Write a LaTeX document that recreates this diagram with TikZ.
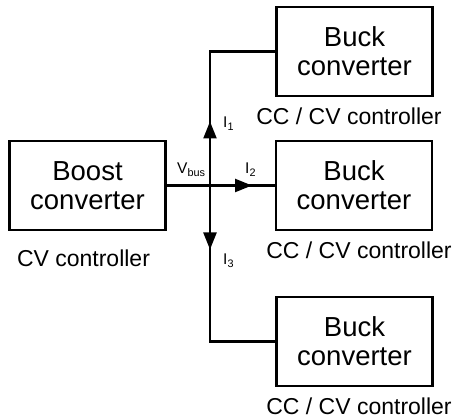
\documentclass[tikz,border=0pt]{standalone}
\usepackage{fontspec}
\setmainfont{Liberation Sans}
\usetikzlibrary{arrows.meta,positioning}
\tikzset{
  block/.style = {
    rectangle,
    draw=black,
    line width=2.4pt,
    minimum width=156pt,
    minimum height=89pt,
    inner sep=0pt,
    align=center,
    font=\fontsize{27.5}{29}\selectfont
  },
  ctrl/.style = {
    inner sep=0pt,
    font=\fontsize{23}{27}\selectfont
  },
  bus/.style = {
    line width=2.4pt
  },
  flow/.style = {
    line width=2.4pt,
    -{Triangle[length=17pt,width=13pt]}
  },
  current/.style = {
    inner sep=0pt,
    anchor=base west,
    font=\fontsize{15.5}{18}\selectfont
  }
}

\begin{document}
\begin{tikzpicture}[x=1pt, y=-1pt]
\useasboundingbox (0,0) rectangle (453,419);

% Boost stage
\node[block] (boost) at (87.5,185.5) {Boost\\converter};

% Buck stages
\node[block] (buckA) at (354.5,51.5) {Buck\\converter};
\node[block] (buckB) at (354,185.5) {Buck\\converter};
\node[block] (buckC) at (354.5,341.5) {Buck\\converter};

% Controllers
\node[ctrl, below=18pt of boost, xshift=-4pt] (ctrlBoost) {CV controller};
\node[ctrl, below=10pt of buckA, xshift=-5.5pt] (ctrlA) {CC / CV controller};
\node[ctrl, below=10pt of buckB, xshift=5pt] (ctrlB) {CC / CV controller};
\node[ctrl, below=10pt of buckC, xshift=4.5pt] (ctrlC) {CC / CV controller};

% DC bus
\coordinate (jn) at (210,185.5);
\draw[bus] (boost) -- (buckB);
\draw[bus] (buckA.west) -| (jn) |- (buckC.west);

% Currents
\coordinate[above=64pt of jn] (tipA);
\coordinate[right=42pt of jn] (tipB);
\coordinate[below=64pt of jn] (tipC);
\draw[flow] (jn) -- (tipA);
\draw[flow] (jn) -- (tipB);
\draw[flow] (jn) -- (tipC);

\node[current] (vbus) at (177,174) {V\textsubscript{bus}};
\node[current] (iA) at (223,128) {I\textsubscript{1}};
\node[current] (iB) at (245,174) {I\textsubscript{2}};
\node[current] (iC) at (223,265) {I\textsubscript{3}};

\end{tikzpicture}
\end{document}
